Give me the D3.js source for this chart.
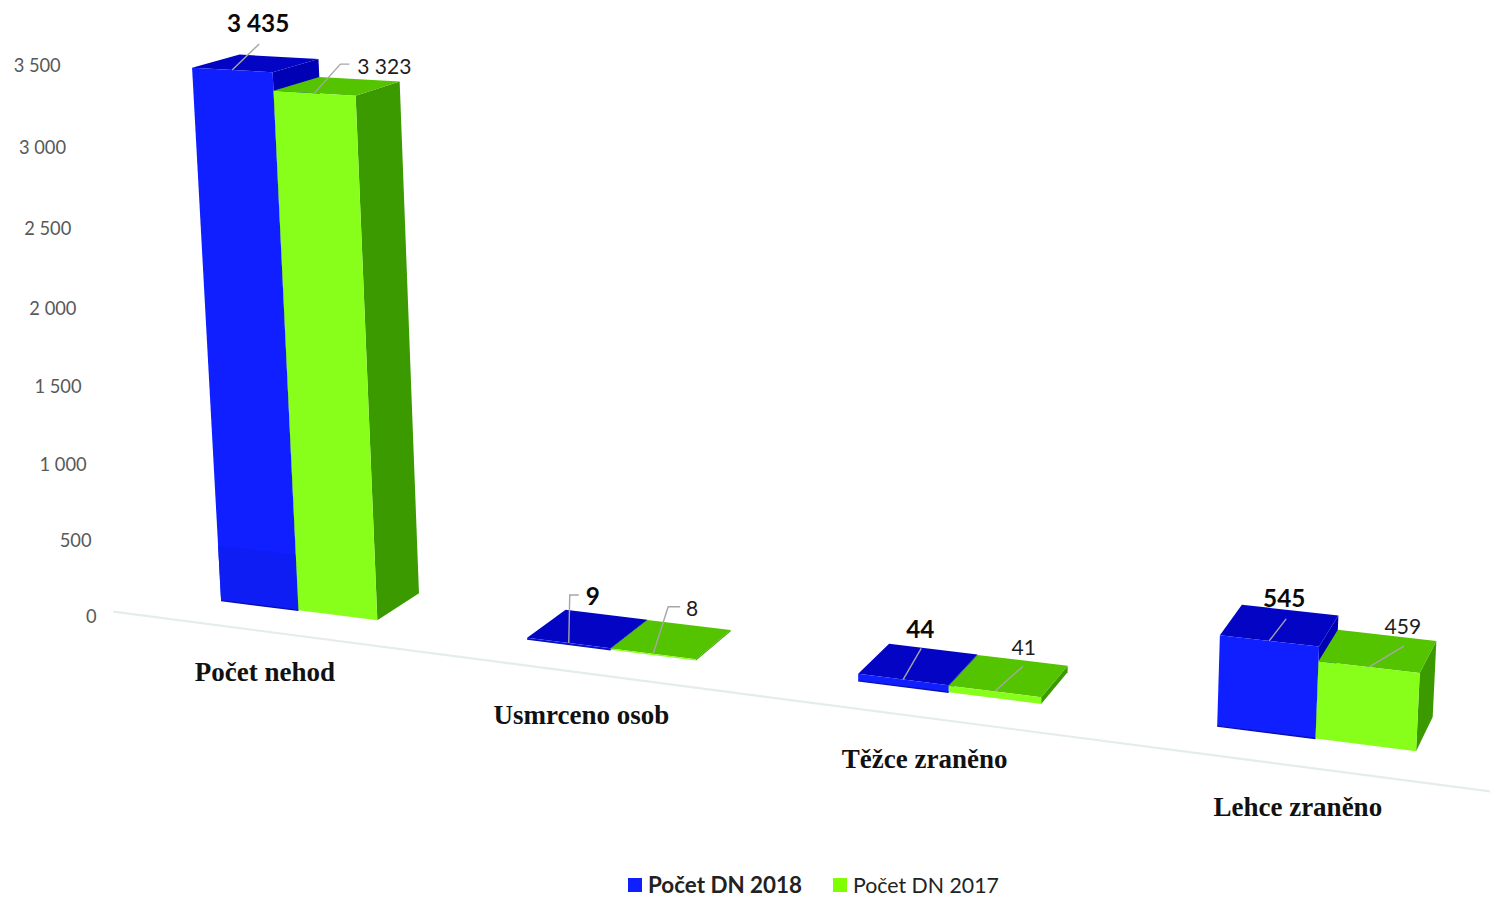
<!DOCTYPE html>
<html><head><meta charset="utf-8">
<style>html,body{margin:0;padding:0;background:#fff;overflow:hidden}svg{display:block}</style>
<script src="https://cdn.jsdelivr.net/npm/d3@7"></script></head>
<body><svg id="chart" width="1490" height="897"></svg>
<script>
// ---- data ----
const categories = ["Počet nehod", "Usmrceno osob", "Těžce zraněno", "Lehce zraněno"];
const seriesNames = ["Počet DN 2018", "Počet DN 2017"];
const values2018 = [3435, 9, 44, 545];
const values2017 = [3323, 8, 41, 459];
const tickValues = [0, 500, 1000, 1500, 2000, 2500, 3000, 3500];
const tickLabels = ["0", "500", "1 000", "1 500", "2 000", "2 500", "3 000", "3 500"];
const valueLabels2018 = ["3 435", "9", "44", "545"];
const valueLabels2017 = ["3 323", "8", "41", "459"];

// ---- styling ----
const palette = [
  {front:"#0f1fff", top:"#0404c4", side:"#0000b4", edge:"#0a10b0"},
  {front:"#88ff1a", top:"#55c400", side:"#3a9a00", edge:null}
];

// ---- perspective camera (world: x in categories, y in thousands, z depth 0..1) ----
const cam = [286.3644,-10.84602,51.71461,221.0784, 14.58340,-155.9997,-11.03136,600.5911, -0.03752095,-0.01250232,0.02604681];
const project = (X,Y,Z) => {
  const d = cam[8]*X + cam[9]*Y + cam[10]*Z + 1;
  return [(cam[0]*X+cam[1]*Y+cam[2]*Z+cam[3])/d, (cam[4]*X+cam[5]*Y+cam[6]*Z+cam[7])/d];
};
const xScale = d3.scalePoint().domain(categories).range([0,3]);
const yScale = d3.scaleLinear().domain([0,1000]).range([0,1]);
const barSpan = 0.26;
const svg = d3.select("#chart");

// floor line
svg.append("path")
  .attr("d", d3.line()([project(-0.245,0,-0.75), project(3.74,0,-0.8)]))
  .attr("stroke","#e4ecee").attr("stroke-width",2.2).attr("fill","none");

// value axis labels
const tickG = svg.append("g").attr("font-family","Lato, sans-serif").attr("font-size",18.3).attr("fill","#595959");
tickValues.forEach((v,i)=>{
  const [x,y] = project(-0.273, yScale(v), -0.913);
  tickG.append("text").attr("x",x-0.5).attr("y",y+3.5).attr("text-anchor","end").attr("dominant-baseline","middle").text(tickLabels[i]);
});

const poly = pts => d3.line()(pts) + "Z";

// bars
const series = [values2018, values2017];
const baseShade = yScale(370);
categories.forEach((c,ci)=>{
  series.forEach((vals,si)=>{
    const x0 = xScale(c) + si*barSpan, x1 = x0 + barSpan, v = yScale(vals[ci]);
    const col = palette[si];
    const g = svg.append("g");
    g.append("path").attr("d",poly([project(x1,0,0),project(x1,0,1),project(x1,v,1),project(x1,v,0)])).attr("fill",col.side);
    g.append("path").attr("d",poly([project(x0,v,0),project(x1,v,0),project(x1,v,1),project(x0,v,1)])).attr("fill",col.top);
    g.append("path").attr("d",poly([project(x0,0,0),project(x1,0,0),project(x1,v,0),project(x0,v,0)])).attr("fill",col.front);
    if(si===0 && v>baseShade*2) g.append("path").attr("d",poly([project(x0,0,0),project(x1,0,0),project(x1,baseShade,0),project(x0,baseShade,0)])).attr("fill","#0d1df4");
    if(col.edge) g.append("path").attr("d",d3.line()([project(x0,0,0),project(x1,0,0)])).attr("stroke",col.edge).attr("stroke-width",1.4).attr("fill","none");
  });
});

// data labels and leader lines, offsets relative to the anchor on the bar's top front edge
const leaderOffsets = [
  [[[27,-26]], [[1,-48],[10,-48]], [[18,-31]], [[17,-22]]],
  [[[26,-29],[35,-29]], [[15,-47],[27,-47]], [[28,-25]], [[35,-21]]]
];
const labelOffsets = [
  [[26,-44],[24,-44],[17,-48],[15,-40]],
  [[70,-24],[39,-43],[29,-42],[34,-38]]
];
const labelText = [valueLabels2018, valueLabels2017];
categories.forEach((c,ci)=>{
  series.forEach((vals,si)=>{
    const a = project(xScale(c)+(si+0.5)*barSpan, yScale(vals[ci]), 0);
    const line = [a].concat(leaderOffsets[si][ci].map(o=>[a[0]+o[0],a[1]+o[1]]));
    svg.append("path").attr("d",d3.line()(line)).attr("fill","none").attr("stroke","#a6a6a6").attr("stroke-width",1.4);
    svg.append("text").attr("x",a[0]+labelOffsets[si][ci][0]).attr("y",a[1]+labelOffsets[si][ci][1])
      .attr("text-anchor","middle").attr("dominant-baseline","middle")
      .attr("font-family","Lato, sans-serif")
      .attr("font-size",si===0?24.3:21).attr("font-weight",si===0?700:400)
      .attr("fill",si===0?"#0a0a0a":"#1e1e1e").text(labelText[si][ci]);
  });
});

// category labels
const catNudge = [[-2.5,3],[-2,4],[-1,2],[0,0]];
categories.forEach((c,ci)=>{
  const [x,y] = project(xScale(c)+0.44-0.042*ci, 0, -1.88);
  svg.append("text").attr("x",x+catNudge[ci][0]).attr("y",y+catNudge[ci][1]).attr("text-anchor","middle").attr("dominant-baseline","middle")
    .attr("font-family","'Liberation Serif', serif").attr("font-weight",700).attr("font-size",27).attr("fill","#111").text(c);
});

// legend
const legend = svg.append("g").attr("font-family","Lato, sans-serif");
[[628,648],[833,853]].forEach((p,i)=>{
  legend.append("rect").attr("x",p[0]).attr("y",878).attr("width",14).attr("height",14).attr("fill",i?"#80ff00":"#0f1fff");
  legend.append("text").attr("x",p[1]).attr("y",887.5).attr("dominant-baseline","middle")
    .attr("font-size",i?21.3:22.4)
    .attr("font-weight",i?400:700).attr("fill","#222").text(seriesNames[i]);
});
</script></body></html>
